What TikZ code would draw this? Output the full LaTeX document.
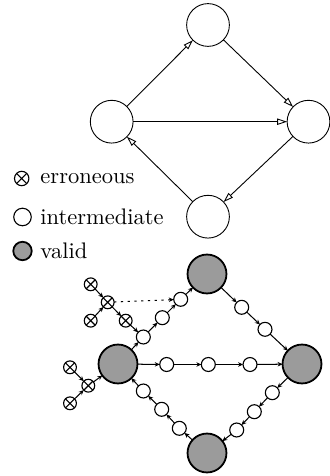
\documentclass[tikz,border=0pt]{standalone}
\usetikzlibrary{arrows.meta}
\definecolor{validgray}{RGB}{155,155,155}
\begin{document}
\begin{tikzpicture}[x=0.4444pt,y=-0.4444pt,
  state/.style={circle,draw,inner sep=0pt,outer sep=0pt,minimum size=19pt,line width=0.4pt},
  valid/.style={circle,draw,fill=validgray,line width=0.8pt,inner sep=0pt,outer sep=0pt,minimum size=17.3pt},
  inter/.style={circle,draw,fill=white,line width=0.5pt,inner sep=0pt,outer sep=0pt,minimum size=6.2pt},
  err/.style={circle,draw,fill=white,line width=0.5pt,inner sep=0pt,outer sep=0pt,minimum size=5.7pt,
    path picture={\draw[line width=0.5pt]
      (path picture bounding box.north west) -- (path picture bounding box.south east)
      (path picture bounding box.south west) -- (path picture bounding box.north east);}},
  trans/.style={-{Triangle[open,length=4.4pt,width=2.8pt]},line width=0.4pt},
  flow/.style={-{Stealth[length=2.2pt,width=2pt]},line width=0.45pt},
  legtext/.style={anchor=west,inner sep=0pt}
]
\useasboundingbox (0,0) rectangle (330,476);

% abstract transition graph
\node[state] (T) at (208,25) {};
\node[state] (L) at (111.7,121.7) {};
\node[state] (R) at (308.5,121.7) {};
\node[state] (B) at (208,216.7) {};
\draw[trans] (L) -- (T);
\draw[trans] (T) -- (R);
\draw[trans] (L) -- (R);
\draw[trans] (R) -- (B);
\draw[trans] (B) -- (L);

% legend
\node[err,minimum size=6.4pt] (lerr) at (21.7,178.5) {};
\node[legtext] (lerrt) at (40,178.5) {erroneous};
\node[inter,minimum size=7.8pt] (lint) at (22.5,217) {};
\node[legtext] (lintt) at (40,217) {intermediate};
\node[valid,minimum size=8.2pt] (lval) at (22.5,251) {};
\node[legtext] (lvalt) at (40,251) {valid};

% refined graph: valid states
\node[valid] (V1) at (207,274) {};
\node[valid] (V2) at (118,364) {};
\node[valid] (V3) at (302,364) {};
\node[valid] (V4) at (207,453) {};

% intermediate states
\node[inter] (a1) at (143.3,337) {};
\node[inter] (a2) at (162.3,317.7) {};
\node[inter] (a3) at (180.7,299.3) {};
\node[inter] (b1) at (241.7,307.3) {};
\node[inter] (b2) at (265,329.3) {};
\node[inter] (c1) at (166.7,364.5) {};
\node[inter] (c2) at (208.3,364.5) {};
\node[inter] (c3) at (250,364.5) {};
\node[inter] (d1) at (272.3,392.7) {};
\node[inter] (d2) at (254.3,411.7) {};
\node[inter] (d3) at (236.7,430) {};
\node[inter] (e3) at (179.3,428.3) {};
\node[inter] (e2) at (161.7,409.3) {};
\node[inter] (e1) at (143.3,391) {};

% erroneous states
\node[err] (ea) at (90.7,284.3) {};
\node[err] (eb) at (107.7,302.3) {};
\node[err] (ec) at (90.7,320.7) {};
\node[err] (ed) at (125.7,320.7) {};
\node[err] (ef) at (70,367.3) {};
\node[err] (eg) at (88.3,385.7) {};
\node[err] (eh) at (70,403.3) {};

% refined transitions
\draw[flow] (V2) -- (a1);
\draw[flow] (a1) -- (a2);
\draw[flow] (a2) -- (a3);
\draw[flow] (a3) -- (V1);
\draw[flow] (V1) -- (b1);
\draw[flow] (b1) -- (b2);
\draw[flow] (b2) -- (V3);
\draw[flow] (V2) -- (c1);
\draw[flow] (c1) -- (c2);
\draw[flow] (c2) -- (c3);
\draw[flow] (c3) -- (V3);
\draw[flow] (V3) -- (d1);
\draw[flow] (d1) -- (d2);
\draw[flow] (d2) -- (d3);
\draw[flow] (d3) -- (V4);
\draw[flow] (V4) -- (e3);
\draw[flow] (e3) -- (e2);
\draw[flow] (e2) -- (e1);
\draw[flow] (e1) -- (V2);

% transitions among erroneous states
\draw[flow] (ea) -- (eb);
\draw[flow] (ec) -- (eb);
\draw[flow] (eb) -- (ed);
\draw[flow] (ed) -- (a1);
\draw[flow,dash pattern=on 1pt off 2pt] (eb) -- (a3);
\draw[flow] (ef) -- (eg);
\draw[flow] (eh) -- (eg);
\draw[flow] (eg) -- (V2);
\end{tikzpicture}
\end{document}
